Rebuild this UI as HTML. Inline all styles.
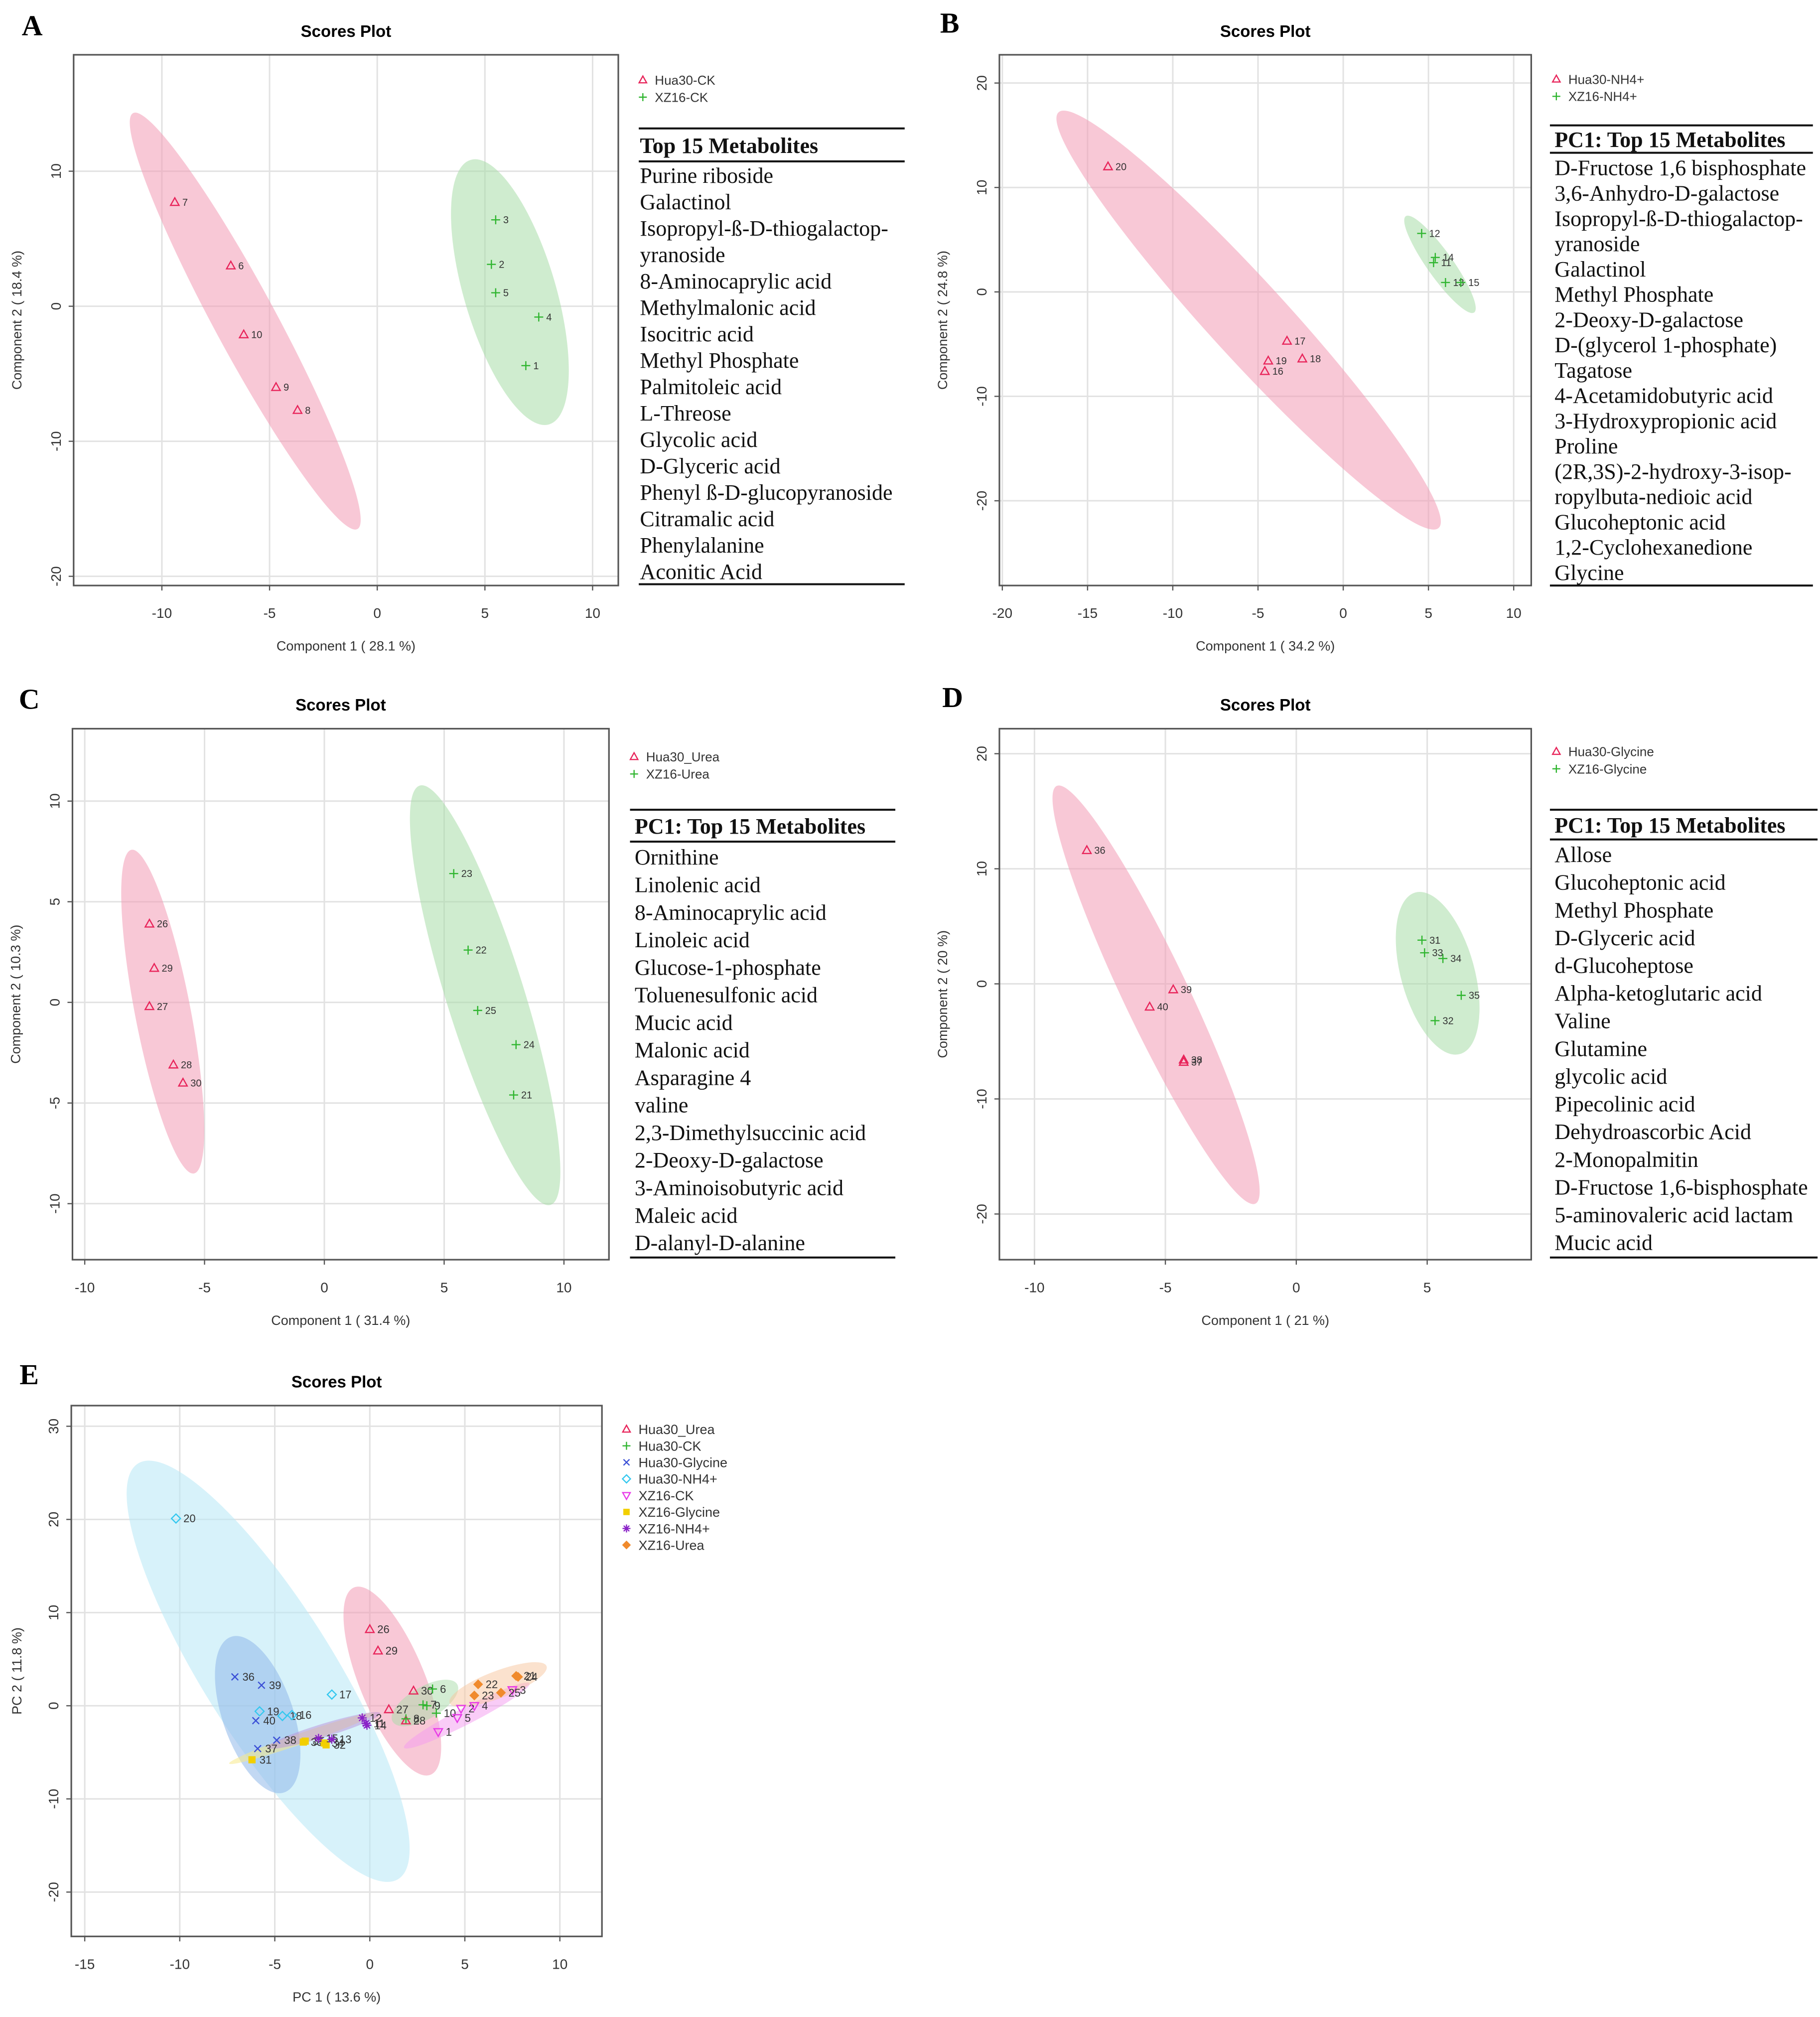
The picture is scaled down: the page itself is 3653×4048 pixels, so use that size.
<!DOCTYPE html>
<html><head><meta charset="utf-8"><style>
html,body{margin:0;padding:0;background:#fff;}
svg{display:block;}
</style></head><body>
<svg id="fig" xmlns="http://www.w3.org/2000/svg" width="3653" height="4048" viewBox="0 0 3653 4048">
<rect x="0" y="0" width="3653" height="4048" fill="#fff"/>
</svg>
<script>
// ===== Panel A data =====
const aHuaX=[-9.4,-6.8,-6.2,-4.7,-3.7];
const aHuaY=[7.7,3.0,-2.1,-6.0,-7.7];
const aHuaLab=["7","6","10","9","8"];
const aXzX=[5.5,5.3,5.5,7.5,6.9];
const aXzY=[6.4,3.1,1.0,-0.8,-4.4];
const aXzLab=["3","2","5","4","1"];
const aXTicks=[-10,-5,0,5,10];
const aYTicks=[-20,-10,0,10];
const aMetab=["Purine riboside","Galactinol","Isopropyl-ß-D-thiogalactop-","yranoside","8-Aminocaprylic acid","Methylmalonic acid","Isocitric acid","Methyl Phosphate","Palmitoleic acid","L-Threose","Glycolic acid","D-Glyceric acid","Phenyl ß-D-glucopyranoside","Citramalic acid","Phenylalanine","Aconitic Acid"];
// ===== Panel B data =====
const bHuaX=[-13.8,-3.3,-4.4,-2.4,-4.6];
const bHuaY=[12.0,-4.7,-6.6,-6.4,-7.6];
const bHuaLab=["20","17","19","18","16"];
const bXzX=[4.6,5.4,5.3,6.0,6.9];
const bXzY=[5.6,3.3,2.8,0.9,0.9];
const bXzLab=["12","14","11","13","15"];
const bXTicks=[-20,-15,-10,-5,0,5,10];
const bYTicks=[-20,-10,0,10,20];
const bMetab=["D-Fructose 1,6 bisphosphate","3,6-Anhydro-D-galactose","Isopropyl-ß-D-thiogalactop-","yranoside","Galactinol","Methyl Phosphate","2-Deoxy-D-galactose","D-(glycerol 1-phosphate)","Tagatose","4-Acetamidobutyric acid","3-Hydroxypropionic acid","Proline","(2R,3S)-2-hydroxy-3-isop-","ropylbuta-nedioic acid","Glucoheptonic acid","1,2-Cyclohexanedione","Glycine"];
// ===== Panel C data =====
const cHuaX=[-7.3,-7.1,-7.3,-6.3,-5.9];
const cHuaY=[3.9,1.7,-0.2,-3.1,-4.0];
const cHuaLab=["26","29","27","28","30"];
const cXzX=[5.4,6.0,6.4,8.0,7.9];
const cXzY=[6.4,2.6,-0.4,-2.1,-4.6];
const cXzLab=["23","22","25","24","21"];
const cXTicks=[-10,-5,0,5,10];
const cYTicks=[-10,-5,0,5,10];
const cMetab=["Ornithine","Linolenic acid","8-Aminocaprylic acid","Linoleic acid","Glucose-1-phosphate","Toluenesulfonic acid","Mucic acid","Malonic acid","Asparagine 4","valine","2,3-Dimethylsuccinic acid","2-Deoxy-D-galactose","3-Aminoisobutyric acid","Maleic acid","D-alanyl-D-alanine"];
// ===== Panel D data =====
const dHuaX=[-8.0,-4.7,-5.6,-4.3,-4.3];
const dHuaY=[11.6,-0.5,-2.0,-6.6,-6.8];
const dHuaLab=["36","39","40","38","37"];
const dXzX=[4.8,4.9,5.6,6.3,5.3];
const dXzY=[3.8,2.7,2.2,-1.0,-3.2];
const dXzLab=["31","33","34","35","32"];
const dXTicks=[-10,-5,0,5];
const dYTicks=[-20,-10,0,10,20];
const dMetab=["Allose","Glucoheptonic acid","Methyl Phosphate","D-Glyceric acid","d-Glucoheptose","Alpha-ketoglutaric acid","Valine","Glutamine","glycolic acid","Pipecolinic acid","Dehydroascorbic Acid","2-Monopalmitin","D-Fructose 1,6-bisphosphate","5-aminovaleric acid lactam","Mucic acid"];
// ===== Panel E data =====
const eGroups=["Hua30_Urea","Hua30-CK","Hua30-Glycine","Hua30-NH4+","XZ16-CK","XZ16-Glycine","XZ16-NH4+","XZ16-Urea"];
const eUreaX=[0,0.43,2.3,1.0,1.9], eUreaY=[8.2,5.9,1.6,-0.4,-1.6], eUreaLab=["26","29","30","27","28"];
const eCkX=[3.3,2.8,3.0,3.5,1.9], eCkY=[1.8,0.1,0.0,-0.8,-1.4], eCkLab=["6","7","9","10","8"];
const eGlyX=[-7.1,-5.7,-6.0,-4.9,-5.9], eGlyY=[3.1,2.2,-1.6,-3.7,-4.6], eGlyLab=["36","39","40","38","37"];
const eNhX=[-10.2,-2.0,-5.8,-4.6,-4.1], eNhY=[20.1,1.2,-0.6,-1.1,-1.0], eNhLab=["20","17","19","18","16"];
const eXckX=[3.6,4.6,4.8,5.5,7.5], eXckY=[-2.8,-1.3,-0.3,0.0,1.7], eXckLab=["1","5","2","4","3"];
const eXglyX=[-6.2,-3.4,-3.5,-2.4,-2.3], eXglyY=[-5.8,-3.8,-3.9,-4.0,-4.2], eXglyLab=["31","35","33","34","32"];
const eXnhX=[-0.4,-0.2,-0.15,-2.7,-2.0], eXnhY=[-1.3,-1.9,-2.1,-3.5,-3.6], eXnhLab=["12","11","14","15","13"];
const eXurX=[5.7,5.5,6.9,7.7,7.8], eXurY=[2.3,1.1,1.4,3.2,3.1], eXurLab=["22","23","25","21","24"];
const eXTicks=[-15,-10,-5,0,5,10];
const eYTicks=[-20,-10,0,10,20,30];

const NS="http://www.w3.org/2000/svg";
const svg=document.getElementById('fig');
function mk(tag,attrs,parent){const e=document.createElementNS(NS,tag);for(const k in attrs)e.setAttribute(k,attrs[k]);parent.appendChild(e);return e;}
function txt(parent,x,y,s,attrs){const t=mk('text',Object.assign({x:x,y:y},attrs),parent);t.textContent=s;return t;}

const COL={red:"#e8245a",green:"#2fb52f",blue:"#3a4fd6",cyan:"#35c8ef",mag:"#e83ae8",yel:"#f2cf00",pur:"#8a22c8",org:"#f08a2c"};

function marker(g,type,x,y,c,s){
  s=s||10;
  if(type==='tri'){mk('path',{d:`M${x},${y-s} L${x+s*0.95},${y+s*0.7} L${x-s*0.95},${y+s*0.7}Z`,fill:'none',stroke:c,'stroke-width':2.4},g);}
  else if(type==='itri'){mk('path',{d:`M${x},${y+s} L${x+s*0.95},${y-s*0.7} L${x-s*0.95},${y-s*0.7}Z`,fill:'none',stroke:c,'stroke-width':2.4},g);}
  else if(type==='plus'){mk('path',{d:`M${x-s},${y}H${x+s}M${x},${y-s}V${y+s}`,stroke:c,'stroke-width':2.4},g);}
  else if(type==='x'){mk('path',{d:`M${x-s*0.75},${y-s*0.75}L${x+s*0.75},${y+s*0.75}M${x-s*0.75},${y+s*0.75}L${x+s*0.75},${y-s*0.75}`,stroke:c,'stroke-width':2.4},g);}
  else if(type==='dia'){mk('path',{d:`M${x},${y-s}L${x+s},${y}L${x},${y+s}L${x-s},${y}Z`,fill:'none',stroke:c,'stroke-width':2.4},g);}
  else if(type==='sq'){mk('rect',{x:x-s*0.8,y:y-s*0.8,width:s*1.6,height:s*1.6,fill:c},g);}
  else if(type==='ast'){mk('path',{d:`M${x-s},${y}H${x+s}M${x},${y-s}V${y+s}M${x-s*0.7},${y-s*0.7}L${x+s*0.7},${y+s*0.7}M${x-s*0.7},${y+s*0.7}L${x+s*0.7},${y-s*0.7}`,stroke:c,'stroke-width':2.4},g);}
  else if(type==='fdia'){mk('path',{d:`M${x},${y-s*1.1}L${x+s*1.1},${y}L${x},${y+s*1.1}L${x-s*1.1},${y}Z`,fill:c},g);}
}

const KX=1.173;
function panel(cfg){
  const g=mk('g',{},svg);
  
  
  const kx=KX, ky=cfg.ky;
  const X=z=>cfg.ox+z*kx, Y=z=>cfg.oy+z*ky;
  const [L,T,R,B]=cfg.box;
  const zx=v=>cfg.xm[1]+(v-cfg.xm[0])*(cfg.xm[3]-cfg.xm[1])/(cfg.xm[2]-cfg.xm[0]);
  const zy=v=>cfg.ym[1]+(v-cfg.ym[0])*(cfg.ym[3]-cfg.ym[1])/(cfg.ym[2]-cfg.ym[0]);
  const sx=v=>X(zx(v)), sy=v=>Y(zy(v));
  const SANS='Liberation Sans, sans-serif', SERIF='Liberation Serif, serif';
  const lt=txt(g,X(cfg.letter[1]),Y(cfg.letter[2]),cfg.letter[0],{'font-family':SERIF,'font-weight':'bold','font-size':58,'text-anchor':'middle'});
  
  const tt=txt(g,X((L+R)/2),Y(T-56)+12,'Scores Plot',{'font-family':SANS,'font-weight':'bold','font-size':33,'text-anchor':'middle'});
  
  const grid=mk('g',{stroke:'#e2e2e2','stroke-width':3},g);
  
  cfg.xt.forEach(v=>{mk('line',{x1:sx(v),x2:sx(v),y1:Y(T),y2:Y(B)},grid);});
  cfg.yt.forEach(v=>{mk('line',{x1:X(L),x2:X(R),y1:sy(v),y2:sy(v)},grid);});
  cfg.ells.forEach(e=>{
    const a1=zx(e.p[0]),b1=zy(e.p[1]),a2=zx(e.p[2]),b2=zy(e.p[3]);
    const lz=Math.hypot(a2-a1,b2-b1);
    const x1=X(a1),y1=Y(b1),x2=X(a2),y2=Y(b2);
    const lo=Math.hypot(x2-x1,y2-y1);
    const cx=(x1+x2)/2,cy=(y1+y2)/2,rx=lo/2,ang=Math.atan2(y2-y1,x2-x1)*180/Math.PI;
    const ry=e.w*kx*ky/(lo/lz);
    const el=mk('ellipse',{cx:cx,cy:cy,rx:rx,ry:ry,transform:`rotate(${ang} ${cx} ${cy})`,fill:e.c,'fill-opacity':e.o||0.55},g);
    
  });
  cfg.series.forEach(s=>{
    const sg=mk('g',{},g);
    
    s.x.forEach((v,i)=>{
      const px=sx(v),py=sy(s.y[i]);
      marker(sg,s.m,px,py,s.c,cfg.ms);
      txt(sg,px+cfg.ms+6,py+cfg.fs*0.35,s.l[i],{'font-family':SANS,'font-size':cfg.fs,fill:'#333'});
    });
  });
  const bx=mk('rect',{x:X(L),y:Y(T),width:(R-L)*kx,height:(B-T)*ky,fill:'none',stroke:'#555','stroke-width':3.2},g);
  
  const xa=mk('g',{},g);
  cfg.xt.forEach(v=>{mk('line',{x1:sx(v),x2:sx(v),y1:Y(B),y2:Y(B)+10,stroke:'#555','stroke-width':2.4},xa);
    txt(xa,sx(v),Y(B+64)+10,String(v),{'font-family':SANS,'font-size':28,'text-anchor':'middle',fill:'#333'});});
  const ya=mk('g',{},g);
  const ylx=X(L)-36;
  cfg.yt.forEach(v=>{mk('line',{x1:X(L)-10,x2:X(L),y1:sy(v),y2:sy(v),stroke:'#555','stroke-width':2.4},ya);
    txt(ya,ylx+10,sy(v),String(v),{'font-family':SANS,'font-size':28,'text-anchor':'middle',fill:'#333',transform:`rotate(-90 ${ylx+10} ${sy(v)})`});});
  const xt=txt(g,X((L+R)/2),Y(B+140)+10,cfg.xlab,{'font-family':SANS,'font-size':27,'text-anchor':'middle',fill:'#333'});
  
  const yx=X(L-cfg.ytOff)+10, yy=Y((T+B)/2);
  const yt=txt(g,yx,yy,cfg.ylab,{'font-family':SANS,'font-size':27,'text-anchor':'middle',fill:'#333',transform:`rotate(-90 ${yx} ${yy})`});
  
  const lg=mk('g',{},g);
  cfg.leg.items.forEach((it,i)=>{
    const y=Y(cfg.leg.y+i*cfg.leg.dy);
    const en=mk('g',{},lg);
    marker(en,it.m,X(cfg.leg.x),y,it.c,cfg.leg.ms);
    txt(en,X(cfg.leg.x)+24,y+cfg.leg.fs*0.36,it.t,{'font-family':SANS,'font-size':cfg.leg.fs,fill:'#333'});
  });
  if(cfg.tab){
    const tb=cfg.tab;
    const tg=mk('g',{},g);
    [tb.l1,tb.l2,tb.l3].forEach(l=>mk('line',{x1:X(tb.x1),x2:X(tb.x2),y1:Y(l),y2:Y(l),stroke:'#111','stroke-width':4},tg));
    const h=txt(tg,X(tb.x1+tb.pad),Y(tb.hy)+15,tb.head,{'font-family':SERIF,'font-weight':'bold','font-size':44,fill:'#111'});
    
    tb.rows.forEach((r,i)=>{
      const t=txt(tg,X(tb.x1+tb.pad),Y(tb.r0+i*tb.dr)+15,r,{'font-family':SERIF,'font-size':tb.fs||44,fill:'#111'});
      
    });
  }
}

const PINK="#f29bb4", GREEN="#a8dca8";
panel({name:'panel-a',ox:0,oy:0,ky:0.859,box:[126,128,1058,1368],xm:[-10,277,10,1014],ym:[10,400,-10,1031],xt:aXTicks,yt:aYTicks,
 letter:['A',55,82],xlab:'Component 1 ( 28.1 %)',ylab:'Component 2 ( 18.4 %)',ytOff:98,ms:9,fs:20,
 ells:[{n:'ellipse-hua30-ck',p:[-11.34,14.3,-0.92,-16.5],w:56,c:PINK},{n:'ellipse-xz16-ck',p:[4.34,10.84,7.98,-8.75],w:80,c:GREEN}],
 series:[{n:'series-hua30-ck',x:aHuaX,y:aHuaY,l:aHuaLab,m:'tri',c:COL.red},{n:'series-xz16-ck',x:aXzX,y:aXzY,l:aXzLab,m:'plus',c:COL.green}],
 leg:{x:1100,y:187,dy:40,ms:8,fs:26,items:[{m:'tri',c:COL.red,t:'Hua30-CK'},{m:'plus',c:COL.green,t:'XZ16-CK'}]},
 tab:{x1:1093,x2:1548,l1:300,l2:377,l3:1365,hy:340,pad:2,r0:410,dr:61.7,head:'Top 15 Metabolites',rows:aMetab}});
panel({name:'panel-b',ox:1830,oy:0,ky:0.859,box:[150,128,1060,1368],xm:[-20,155,10,1030],ym:[20,194,-20,1170],xt:bXTicks,yt:bYTicks,
 letter:['B',65,76],xlab:'Component 1 ( 34.2 %)',ylab:'Component 2 ( 24.8 %)',ytOff:98,ms:9,fs:20,
 ells:[{n:'ellipse-hua30-nh4',p:[-16.7,17.2,5.6,-22.6],w:75,c:PINK},{n:'ellipse-xz16-nh4',p:[3.67,7.25,7.68,-1.97],w:24,c:GREEN}],
 series:[{n:'series-hua30-nh4',x:bHuaX,y:bHuaY,l:bHuaLab,m:'tri',c:COL.red},{n:'series-xz16-nh4',x:bXzX,y:bXzY,l:bXzLab,m:'plus',c:COL.green}],
 leg:{x:1103,y:185,dy:40,ms:8,fs:26,items:[{m:'tri',c:COL.red,t:'Hua30-NH4+'},{m:'plus',c:COL.green,t:'XZ16-NH4+'}]},
 tab:{x1:1092,x2:1542,l1:293,l2:357,l3:1368,hy:326,pad:8,r0:392,dr:59.1,head:'PC1: Top 15 Metabolites',rows:bMetab}});
panel({name:'panel-c',ox:0,oy:1350,ky:0.865,box:[124,130,1042,1362],xm:[-10,145,10,965],ym:[10,298,-10,1232],xt:cXTicks,yt:cYTicks,
 letter:['C',50,84],xlab:'Component 1 ( 31.4 %)',ylab:'Component 2 ( 10.3 %)',ytOff:98,ms:9,fs:20,
 ells:[{n:'ellipse-hua30-urea',p:[-8.05,7.58,-5.44,-8.5],w:48,c:PINK},{n:'ellipse-xz16-urea',p:[3.98,10.77,9.44,-10.06],w:68,c:GREEN}],
 series:[{n:'series-hua30-urea',x:cHuaX,y:cHuaY,l:cHuaLab,m:'tri',c:COL.red},{n:'series-xz16-urea',x:cXzX,y:cXzY,l:cXzLab,m:'plus',c:COL.green}],
 leg:{x:1085,y:195,dy:40,ms:8,fs:26,items:[{m:'tri',c:COL.red,t:'Hua30_Urea'},{m:'plus',c:COL.green,t:'XZ16-Urea'}]},
 tab:{x1:1078,x2:1532,l1:318,l2:392,l3:1357,hy:356,pad:8,r0:428,dr:63.9,head:'PC1: Top 15 Metabolites',rows:cMetab}});
panel({name:'panel-d',ox:1830,oy:1350,ky:0.865,box:[150,130,1060,1362],xm:[-10,210,5,882],ym:[20,188,-20,1256],xt:dXTicks,yt:dYTicks,
 letter:['D',70,80],xlab:'Component 1 ( 21 %)',ylab:'Component 2 ( 20 %)',ytOff:98,ms:9,fs:20,
 ells:[{n:'ellipse-hua30-glycine',p:[-9.15,17.2,-1.56,-19.1],w:58,c:PINK},{n:'ellipse-xz16-glycine',p:[4.55,7.94,6.25,-6.1],w:64,c:GREEN}],
 series:[{n:'series-hua30-glycine',x:dHuaX,y:dHuaY,l:dHuaLab,m:'tri',c:COL.red},{n:'series-xz16-glycine',x:dXzX,y:dXzY,l:dXzLab,m:'plus',c:COL.green}],
 leg:{x:1103,y:183,dy:40,ms:8,fs:26,items:[{m:'tri',c:COL.red,t:'Hua30-Glycine'},{m:'plus',c:COL.green,t:'XZ16-Glycine'}]},
 tab:{x1:1092,x2:1550,l1:318,l2:387,l3:1357,hy:354,pad:8,r0:422,dr:64.3,head:'PC1: Top 15 Metabolites',rows:dMetab}});
panel({name:'panel-e',ox:0,oy:2700,ky:0.864,box:[122,140,1030,1373],xm:[-15,145,10,958],ym:[30,188,-20,1270],xt:eXTicks,yt:eYTicks,
 letter:['E',50,90],xlab:'PC 1 ( 13.6 %)',ylab:'PC 2 ( 11.8 %)',ytOff:94,ms:9,fs:22,
 ells:[
  {n:'ellipse-hua30-nh4',p:[-12.2,26.0,1.5,-18.6],w:120,c:'#bdeaf7',o:0.6},
  {n:'ellipse-hua30-glycine',p:[-7.3,7.4,-4.5,-9.3],w:62,c:'#8fb8ea',o:0.55},
  {n:'ellipse-hua30-urea',p:[-0.83,12.7,3.2,-7.4],w:58,c:PINK,o:0.55},
  {n:'ellipse-hua30-ck',p:[1.2,-1.7,4.6,2.3],w:34,c:GREEN,o:0.5},
  {n:'ellipse-xz16-ck',p:[1.8,-4.5,8.4,2.4],w:18,c:'#f49af0',o:0.5},
  {n:'ellipse-xz16-urea',p:[4.2,0.3,9.3,4.25],w:30,c:'#f7c69e',o:0.5},
  {n:'ellipse-xz16-glycine',p:[-7.4,-6.2,0.25,-0.8],w:12,c:'#f7ea8a',o:0.55},
  {n:'ellipse-xz16-nh4',p:[-5.4,-4.5,0.55,-0.8],w:15,c:'#b98fd8',o:0.5}],
 series:[
  {n:'series-hua30-urea',x:eUreaX,y:eUreaY,l:eUreaLab,m:'tri',c:COL.red},
  {n:'series-hua30-ck',x:eCkX,y:eCkY,l:eCkLab,m:'plus',c:COL.green},
  {n:'series-hua30-glycine',x:eGlyX,y:eGlyY,l:eGlyLab,m:'x',c:COL.blue},
  {n:'series-hua30-nh4',x:eNhX,y:eNhY,l:eNhLab,m:'dia',c:COL.cyan},
  {n:'series-xz16-ck',x:eXckX,y:eXckY,l:eXckLab,m:'itri',c:COL.mag},
  {n:'series-xz16-glycine',x:eXglyX,y:eXglyY,l:eXglyLab,m:'sq',c:COL.yel},
  {n:'series-xz16-nh4',x:eXnhX,y:eXnhY,l:eXnhLab,m:'ast',c:COL.pur},
  {n:'series-xz16-urea',x:eXurX,y:eXurY,l:eXurLab,m:'fdia',c:COL.org}],
 leg:{x:1072,y:195,dy:38.4,ms:8,fs:27,items:[
  {m:'tri',c:COL.red,t:eGroups[0]},{m:'plus',c:COL.green,t:eGroups[1]},{m:'x',c:COL.blue,t:eGroups[2]},{m:'dia',c:COL.cyan,t:eGroups[3]},
  {m:'itri',c:COL.mag,t:eGroups[4]},{m:'sq',c:COL.yel,t:eGroups[5]},{m:'ast',c:COL.pur,t:eGroups[6]},{m:'fdia',c:COL.org,t:eGroups[7]}]}});
</script>
</body></html>
